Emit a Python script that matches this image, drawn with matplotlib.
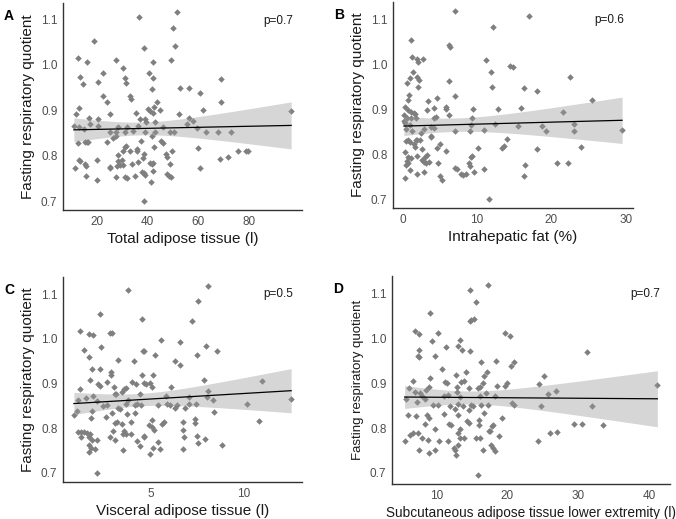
import numpy as np
import matplotlib
matplotlib.use("Agg")
import matplotlib.pyplot as plt

plt.rcParams['font.family'] = ['Liberation Sans', 'DejaVu Sans']

# ---------------- Panel A: Total adipose tissue (l) ----------------
a_x = [36.7, 51.6, 50.1, 51.0, 19.0, 12.7, 16.1, 27.7, 38.8, 42.2, 49.3, 30.5, 22.4, 13.7, 14.8,
       20.4, 31.2, 31.5, 40.5, 42.2, 42.0, 52.7, 56.3, 60.8, 68.9, 22.7, 24.3, 33.2, 33.5, 13.1,
       11.8, 40.1, 41.2, 42.2, 42.6, 43.9, 44.9, 52.4, 62.0, 68.8, 96.5, 17.1, 20.4, 25.4, 35.4,
       37.1, 39.1, 56.2, 58.0, 11.1, 13.2, 17.5, 20.4, 28.5, 31.9, 36.3, 39.6, 43.1, 46.1, 55.7,
       59.5, 14.9, 25.2, 27.5, 27.8, 31.1, 34.4, 39.2, 43.0, 49.0, 50.3, 63.1, 67.9, 72.7, 12.8,
       16.1, 15.4, 16.6, 24.2, 26.5, 31.5, 31.2, 35.9, 37.6, 41.7, 42.6, 45.4, 46.0, 60.0, 28.4,
       30.3, 33.1, 35.9, 38.6, 47.3, 47.7, 49.5, 75.8, 78.8, 79.7, 71.8, 68.6, 13.1, 13.5, 15.4,
       15.8, 20.3, 28.6, 29.2, 30.2, 30.5, 33.9, 36.5, 38.3, 40.9, 41.7, 42.1, 49.0, 11.6, 25.2,
       25.5, 28.1, 15.9, 27.6, 31.2, 32.0, 35.3, 38.0, 38.8, 39.2, 42.2, 47.8, 48.5, 49.1, 20.1,
       41.4, 60.8, 38.8]
a_y = [1.106, 1.115, 1.080, 1.041, 1.053, 1.015, 1.007, 1.011, 1.037, 1.005, 1.011, 0.992, 0.981,
       0.973, 0.958, 0.962, 0.970, 0.960, 0.981, 0.970, 0.947, 0.948, 0.949, 0.938, 0.969, 0.931,
       0.919, 0.931, 0.925, 0.905, 0.892, 0.903, 0.899, 0.893, 0.908, 0.919, 0.901, 0.892, 0.900,
       0.917, 0.898, 0.883, 0.881, 0.892, 0.894, 0.881, 0.881, 0.883, 0.877, 0.865, 0.864, 0.869,
       0.865, 0.864, 0.864, 0.865, 0.873, 0.873, 0.864, 0.870, 0.861, 0.858, 0.851, 0.844, 0.852,
       0.852, 0.855, 0.851, 0.851, 0.851, 0.851, 0.853, 0.851, 0.851, 0.827, 0.831, 0.831, 0.831,
       0.831, 0.838, 0.822, 0.820, 0.814, 0.833, 0.844, 0.820, 0.832, 0.827, 0.816, 0.802, 0.809,
       0.810, 0.809, 0.804, 0.804, 0.797, 0.809, 0.811, 0.809, 0.811, 0.797, 0.792, 0.790, 0.788,
       0.781, 0.778, 0.791, 0.787, 0.780, 0.791, 0.780, 0.781, 0.786, 0.794, 0.783, 0.781, 0.783,
       0.781, 0.773, 0.774, 0.772, 0.777, 0.755, 0.752, 0.754, 0.751, 0.756, 0.765, 0.762, 0.758,
       0.766, 0.760, 0.755, 0.752, 0.746, 0.742, 0.772, 0.701]

# ---------------- Panel B: Intrahepatic fat (%) ----------------
b_x = [7.0, 17.0, 12.1, 1.2, 6.2, 6.4, 1.3, 1.9, 2.1, 2.7, 11.2, 14.4, 14.8, 1.4, 1.0, 0.6, 2.0,
       2.2, 11.9, 6.2, 22.5, 2.1, 12.0, 16.3, 18.1, 0.9, 0.7, 7.0, 3.4, 4.6, 0.4, 0.8, 1.2, 1.5,
       1.7, 3.3, 4.2, 5.8, 5.9, 6.2, 9.5, 12.8, 15.9, 21.6, 25.4, 0.2, 0.6, 1.2, 1.8, 4.3, 4.5,
       9.3, 0.2, 0.4, 1.0, 3.9, 9.2, 12.4, 15.5, 18.8, 23.1, 0.5, 1.3, 2.9, 4.2, 7.0, 9.1, 10.9,
       19.3, 23.1, 29.5, 2.5, 3.8, 3.9, 5.0, 14.1, 13.6, 13.4, 0.8, 0.5, 1.0, 1.8, 2.0, 2.4, 1.5,
       1.7, 2.6, 4.7, 5.9, 10.2, 18.1, 24.0, 0.3, 0.8, 1.1, 1.9, 3.0, 3.3, 2.6, 2.9, 3.2, 3.6,
       4.8, 9.4, 9.2, 0.6, 0.5, 0.8, 1.0, 2.9, 1.9, 5.0, 5.3, 7.3, 7.1, 7.9, 8.2, 8.5, 9.0, 9.1,
       9.6, 10.9, 16.4, 16.3, 20.8, 22.2, 0.4, 11.6]
b_y = [1.119, 1.108, 1.084, 1.056, 1.044, 1.039, 1.017, 1.013, 1.007, 1.013, 1.010, 0.997, 0.994,
       0.983, 0.970, 0.960, 0.973, 0.965, 0.984, 0.963, 0.973, 0.950, 0.950, 0.949, 0.941, 0.933,
       0.921, 0.931, 0.919, 0.926, 0.906, 0.899, 0.895, 0.893, 0.890, 0.899, 0.904, 0.906, 0.902,
       0.887, 0.902, 0.901, 0.904, 0.894, 0.921, 0.887, 0.882, 0.880, 0.880, 0.881, 0.884, 0.882,
       0.875, 0.869, 0.865, 0.861, 0.865, 0.867, 0.864, 0.863, 0.868, 0.856, 0.853, 0.856, 0.858,
       0.853, 0.853, 0.854, 0.853, 0.853, 0.855, 0.847, 0.841, 0.838, 0.824, 0.835, 0.819, 0.813,
       0.832, 0.830, 0.828, 0.832, 0.832, 0.832, 0.823, 0.816, 0.812, 0.813, 0.808, 0.813, 0.812,
       0.816, 0.804, 0.795, 0.791, 0.796, 0.795, 0.799, 0.787, 0.782, 0.780, 0.782, 0.781, 0.797,
       0.795, 0.785, 0.775, 0.780, 0.764, 0.760, 0.756, 0.752, 0.742, 0.767, 0.769, 0.757, 0.753,
       0.756, 0.780, 0.773, 0.761, 0.768, 0.777, 0.752, 0.781, 0.781, 0.747, 0.701]

# ---------------- Panel C: Visceral adipose tissue (l) ----------------
c_x = [3.80, 8.06, 7.54, 7.19, 2.28, 4.54, 1.19, 1.67, 1.92, 2.81, 2.92, 5.57, 6.57, 1.41, 1.67,
       2.35, 4.57, 4.64, 4.09, 3.22, 5.25, 6.30, 7.49, 7.95, 8.56, 6.58, 1.87, 2.28, 2.88, 2.84,
       1.73, 1.19, 2.17, 2.29, 2.67, 3.01, 3.56, 3.67, 4.00, 4.22, 4.52, 4.66, 4.73, 4.98, 5.07,
       5.11, 6.07, 7.83, 8.06, 10.94, 1.09, 1.51, 1.90, 2.12, 3.10, 3.15, 3.45, 4.40, 3.65, 3.77,
       4.16, 4.45, 4.25, 5.39, 5.85, 6.01, 6.41, 5.82, 7.03, 7.44, 7.03, 8.02, 8.31, 10.16, 12.53,
       1.05, 0.87, 1.85, 2.46, 2.65, 2.60, 2.92, 3.24, 3.33, 3.70, 4.15, 6.30, 6.83, 8.41, 1.80,
       3.10, 3.17, 3.47, 3.95, 5.09, 5.60, 5.69, 6.71, 7.37, 7.39, 10.80, 1.09, 1.27, 1.41, 1.58,
       1.73, 1.25, 1.68, 1.85, 2.99, 3.58, 3.52, 3.65, 3.95, 4.91, 5.07, 5.18, 6.73, 2.81, 3.06,
       4.61, 4.66, 6.76, 7.47, 7.90, 5.36, 4.25, 4.41, 1.68, 1.80, 2.01, 2.10, 1.67, 3.49, 5.11,
       5.48, 4.98, 6.71, 7.54, 8.83, 2.12]
c_y = [1.110, 1.118, 1.084, 1.041, 1.057, 1.044, 1.018, 1.010, 1.008, 1.014, 1.014, 0.997, 0.994,
       0.975, 0.960, 0.983, 0.974, 0.974, 0.951, 0.952, 0.965, 0.951, 0.963, 0.984, 0.974, 0.941,
       0.933, 0.933, 0.925, 0.919, 0.908, 0.887, 0.898, 0.895, 0.904, 0.893, 0.887, 0.890, 0.904,
       0.899, 0.920, 0.902, 0.899, 0.901, 0.893, 0.919, 0.893, 0.908, 0.884, 0.905, 0.864, 0.868,
       0.873, 0.860, 0.876, 0.877, 0.882, 0.876, 0.855, 0.864, 0.852, 0.852, 0.855, 0.852, 0.855,
       0.852, 0.852, 0.871, 0.855, 0.855, 0.870, 0.870, 0.864, 0.853, 0.865, 0.838, 0.829, 0.839,
       0.850, 0.852, 0.826, 0.834, 0.844, 0.843, 0.832, 0.834, 0.844, 0.844, 0.837, 0.822, 0.812,
       0.814, 0.810, 0.814, 0.819, 0.810, 0.813, 0.813, 0.812, 0.820, 0.816, 0.792, 0.792, 0.792,
       0.789, 0.787, 0.780, 0.780, 0.774, 0.794, 0.793, 0.786, 0.786, 0.787, 0.806, 0.802, 0.795,
       0.795, 0.780, 0.773, 0.782, 0.779, 0.780, 0.782, 0.776, 0.768, 0.771, 0.759, 0.763, 0.755,
       0.754, 0.774, 0.747, 0.751, 0.756, 0.752, 0.741, 0.752, 0.767, 0.762, 0.700]

# ---------------- Panel D: Subcutaneous adipose tissue lower extremity (l) ----------------
d_x = [14.7, 17.3, 15.5, 14.7, 14.9, 15.3, 9.16, 7.02, 7.58, 10.28, 9.39, 13.31, 19.7, 20.3, 11.35,
       13.08, 13.59, 14.71, 7.58, 7.39, 7.58, 9.86, 31.26, 16.29, 18.39, 20.86, 20.44, 10.79, 12.75,
       14.20, 16.76, 17.08, 6.69, 6.18, 9.16, 9.02, 8.51, 11.21, 11.45, 12.84, 13.45, 13.82, 14.57,
       15.83, 16.20, 16.53, 18.53, 19.60, 19.88, 24.41, 25.10, 41.10, 7.02, 7.67, 7.25, 7.95, 11.12,
       11.68, 12.89, 13.31, 16.11, 17.0, 18.2, 25.66, 26.78, 5.76, 8.37, 9.49, 10.28, 11.86, 13.08,
       13.73, 14.85, 15.17, 16.29, 17.23, 20.63, 20.91, 24.69, 31.96, 12.66, 14.57, 16.71, 5.96,
       7.11, 8.65, 8.97, 11.12, 13.03, 14.34, 14.52, 15.97, 19.23, 17.79, 17.97, 8.37, 9.81, 11.82,
       12.05, 13.31, 15.92, 17.60, 29.35, 30.47, 33.45, 25.99, 27.02, 6.32, 6.65, 7.39, 7.90, 8.83,
       10.42, 11.59, 13.08, 13.36, 13.87, 15.5, 16.20, 17.46, 18.81, 5.52, 7.48, 9.86, 8.97, 12.52,
       12.66, 12.80, 12.98, 16.57, 17.74, 17.93, 18.21, 24.36, 15.87]
d_y = [1.109, 1.119, 1.083, 1.040, 1.041, 1.044, 1.057, 1.017, 1.010, 1.012, 0.994, 0.997, 1.012,
       1.007, 0.981, 0.983, 0.974, 0.973, 0.974, 0.962, 0.959, 0.962, 0.970, 0.947, 0.949, 0.948,
       0.938, 0.932, 0.919, 0.926, 0.917, 0.925, 0.905, 0.890, 0.912, 0.892, 0.886, 0.903, 0.901,
       0.891, 0.902, 0.905, 0.890, 0.890, 0.891, 0.901, 0.893, 0.893, 0.900, 0.899, 0.916, 0.897,
       0.880, 0.878, 0.859, 0.872, 0.872, 0.875, 0.880, 0.869, 0.871, 0.878, 0.871, 0.876, 0.884,
       0.865, 0.865, 0.851, 0.851, 0.850, 0.854, 0.849, 0.852, 0.850, 0.851, 0.851, 0.855, 0.851,
       0.850, 0.850, 0.843, 0.841, 0.834, 0.830, 0.826, 0.830, 0.822, 0.832, 0.830, 0.815, 0.812,
       0.819, 0.823, 0.804, 0.806, 0.808, 0.799, 0.809, 0.806, 0.798, 0.806, 0.793, 0.809, 0.809,
       0.806, 0.789, 0.792, 0.785, 0.788, 0.789, 0.777, 0.774, 0.770, 0.772, 0.789, 0.778, 0.778,
       0.778, 0.778, 0.794, 0.782, 0.771, 0.752, 0.750, 0.745, 0.756, 0.751, 0.740, 0.763, 0.752,
       0.762, 0.755, 0.748, 0.770, 0.696]

panels = [
    dict(x=a_x, y=a_y, label="A", p="p=0.7", xlabel="Total adipose tissue (l)",
         xticks=[20, 40, 60, 80], xtl=["20", "40", "60", "80"], fs=11, xfs=11,
         rect=[63, 3, 302, 210]),
    dict(x=b_x, y=b_y, label="B", p="p=0.6", xlabel="Intrahepatic fat (%)",
         xticks=[0, 10, 20, 30], xtl=["0", "10", "20", "30"], fs=11, xfs=11,
         rect=[393, 2, 633, 208]),
    dict(x=c_x, y=c_y, label="C", p="p=0.5", xlabel="Visceral adipose tissue (l)",
         xticks=[5, 10], xtl=["5", "10"], fs=11, xfs=11,
         rect=[63, 277, 302, 482]),
    dict(x=d_x, y=d_y, label="D", p="p=0.7",
         xlabel="Subcutaneous adipose tissue lower extremity (l)",
         xticks=[10, 20, 30, 40], xtl=["10", "20", "30", "40"], fs=9.5, xfs=9.8,
         rect=[392, 276, 670, 484]),
]
yticks = [0.7, 0.8, 0.9, 1.0, 1.1]
ytl = ["0.7", "0.8", "0.9", "1.0", "1.1"]

W, H = 676, 519
fig = plt.figure(figsize=(W / 100, H / 100), dpi=100)

for pnl in panels:
    l, t, r, b = pnl["rect"]
    ax = fig.add_axes([l / W, 1 - b / H, (r - l) / W, (b - t) / H])
    x = np.asarray(pnl["x"], float)
    y = np.asarray(pnl["y"], float)
    ax.scatter(x, y, marker="D", s=11, color="#7f7f7f", linewidths=0, zorder=2)

    # linear fit with 95% confidence band
    n = len(x)
    slope, icpt = np.polyfit(x, y, 1)
    xs = np.linspace(x.min(), x.max(), 100)
    yhat = icpt + slope * xs
    resid = y - (icpt + slope * x)
    s = np.sqrt(np.sum(resid ** 2) / (n - 2))
    se = s * np.sqrt(1 / n + (xs - x.mean()) ** 2 / np.sum((x - x.mean()) ** 2))
    tval = 1.977
    ax.fill_between(xs, yhat - tval * se, yhat + tval * se, color="#999999",
                    alpha=0.4, linewidth=0, zorder=3)
    ax.plot(xs, yhat, color="black", linewidth=0.9, zorder=4)

    xr = x.max() - x.min()
    yr = y.max() - y.min()
    ax.set_xlim(x.min() - 0.05 * xr, x.max() + 0.05 * xr)
    ax.set_ylim(y.min() - 0.05 * yr, y.max() + 0.05 * yr)

    ax.set_xticks(pnl["xticks"])
    ax.set_xticklabels(pnl["xtl"])
    ax.set_yticks(yticks)
    ax.set_yticklabels(ytl)
    ax.tick_params(length=0, labelsize=8.5, labelcolor="#4d4d4d", pad=4)
    for sp in ["top", "right"]:
        ax.spines[sp].set_visible(False)
    for sp in ["left", "bottom"]:
        ax.spines[sp].set_color("#333333")
        ax.spines[sp].set_linewidth(1.0)
    ax.set_xlabel(pnl["xlabel"], fontsize=pnl["xfs"], color="#1a1a1a", labelpad=3)
    ax.set_ylabel("Fasting respiratory quotient", fontsize=pnl["fs"], color="#1a1a1a",
                  labelpad=4)
    ax.text(0.965, 0.915, pnl["p"], transform=ax.transAxes, ha="right", va="center",
            fontsize=8.5, color="#1a1a1a")
    fig.text((l - 59) / W, 1 - (t + 13) / H, pnl["label"], fontsize=10,
             fontweight="bold", ha="left", va="center")

fig.savefig("out.png", dpi=100)
